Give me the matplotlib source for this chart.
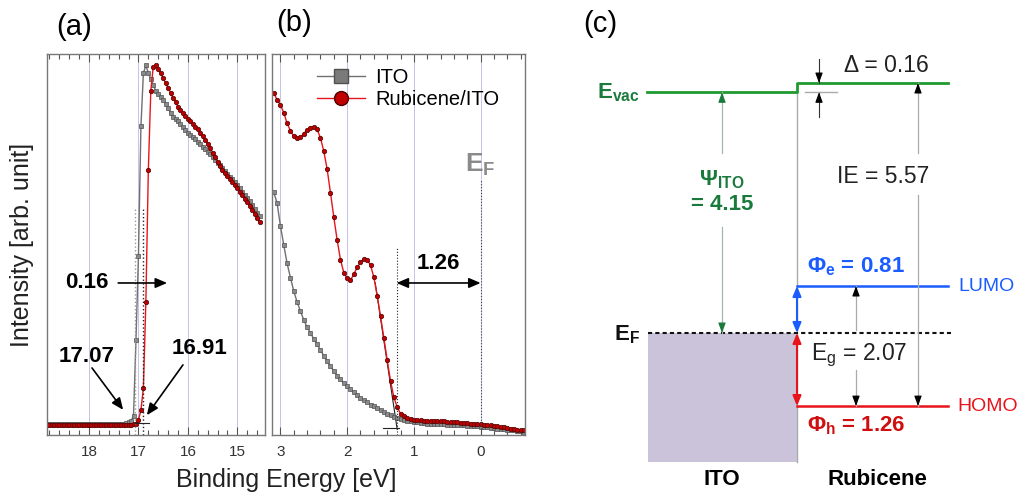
import numpy as np
import matplotlib
matplotlib.use('Agg')
import matplotlib.pyplot as plt
from matplotlib.lines import Line2D
from matplotlib.ticker import MultipleLocator, FormatStrFormatter

plt.rcParams['font.family'] = ['Liberation Sans', 'DejaVu Sans']
plt.rcParams['mathtext.fontset'] = 'custom'
plt.rcParams['mathtext.rm'] = 'Liberation Sans'
plt.rcParams['mathtext.bf'] = 'Liberation Sans:bold'
plt.rcParams['mathtext.it'] = 'Liberation Sans:italic'

# ---- (a) secondary electron cutoff, 18.85 -> 14.55 eV in 0.05 eV steps
be_cutoff = np.linspace(18.85, 14.55, 87)
ito_cutoff = [2.8, 2.8, 2.8, 2.8, 2.8, 2.8, 2.8, 2.8, 2.8, 2.8,
              2.8, 2.8, 2.8, 2.8, 2.8, 2.8, 2.8, 2.8, 2.8, 2.8,
              2.8, 2.8, 2.8, 2.8, 2.8, 2.8, 2.8, 2.8, 2.8, 2.9,
              2.9, 3.0, 3.1, 3.3, 3.7, 5.0, 25.0, 47.0, 81.0, 95.0,
              97.0, 95.0, 93.4, 91.9, 90.3, 89.5, 88.7, 87.9, 86.9, 85.7,
              84.6, 83.5, 82.9, 82.3, 81.6, 80.8, 80.0, 79.3, 78.8, 78.2,
              77.7, 77.0, 76.4, 75.7, 75.0, 74.4, 73.7, 73.0, 72.3, 71.5,
              70.8, 70.0, 69.3, 68.6, 67.8, 67.1, 66.3, 65.5, 64.7, 63.9,
              63.0, 62.2, 61.3, 60.3, 59.2, 58.2, 57.4]
rub_cutoff = [2.6, 2.6, 2.6, 2.6, 2.6, 2.6, 2.6, 2.6, 2.6, 2.6,
              2.6, 2.6, 2.6, 2.6, 2.6, 2.6, 2.6, 2.6, 2.6, 2.6,
              2.6, 2.6, 2.6, 2.6, 2.6, 2.6, 2.6, 2.6, 2.6, 2.6,
              2.6, 2.6, 2.6, 2.6, 2.7, 2.8, 3.0, 4.0, 6.5, 12.3,
              35.0, 69.6, 90.4, 96.7, 97.0, 96.0, 95.0, 93.6, 92.4, 91.1,
              89.8, 88.4, 87.3, 86.2, 85.4, 84.6, 83.8, 83.0, 82.3, 81.6,
              80.9, 80.2, 79.3, 78.4, 77.5, 76.5, 75.3, 74.1, 72.9, 71.6,
              70.5, 69.6, 68.8, 68.0, 67.2, 66.4, 65.6, 64.7, 63.8, 62.9,
              62.0, 61.1, 60.1, 59.1, 58.0, 56.9, 55.8]

# ---- (b) valence region, 3.10 -> -0.65 eV in 0.05 eV steps
be_valence = np.linspace(3.10, -0.65, 76)
ito_valence = [63.8, 60.9, 54.9, 49.9, 45.1, 41.3, 37.8, 34.9, 32.5, 30.2,
               28.3, 26.8, 25.2, 23.8, 22.3, 20.8, 19.4, 18.1, 16.8, 15.6,
               14.6, 13.6, 12.8, 12.0, 11.2, 10.5, 9.8, 9.2, 8.6, 8.0,
               7.5, 7.0, 6.5, 6.0, 5.6, 5.2, 4.8, 4.5, 4.2, 4.0,
               3.8, 3.6, 3.4, 3.3, 3.2, 3.1, 3.0, 3.0, 2.9, 2.9,
               2.8, 2.8, 2.7, 2.7, 2.6, 2.6, 2.5, 2.5, 2.4, 2.4,
               2.3, 2.3, 2.2, 2.1, 2.0, 1.9, 1.8, 1.7, 1.6, 1.5,
               1.4, 1.3, 1.2, 1.1, 1.0, 0.9]
rub_valence = [89.8, 88.0, 86.7, 84.6, 81.8, 79.9, 78.4, 77.9, 78.1, 79.1,
               80.1, 80.7, 80.9, 80.2, 78.0, 74.5, 69.8, 63.6, 57.2, 51.2,
               46.0, 42.6, 41.1, 40.6, 42.2, 44.0, 45.3, 46.2, 46.0, 44.6,
               41.4, 36.6, 31.2, 25.5, 19.7, 14.2, 9.9, 7.3, 5.6, 4.9,
               4.4, 4.2, 4.0, 3.9, 3.9, 3.8, 3.8, 3.8, 3.7, 3.7,
               3.6, 3.6, 3.5, 3.4, 3.4, 3.3, 3.2, 3.2, 3.1, 3.0,
               3.0, 2.9, 2.8, 2.7, 2.6, 2.5, 2.4, 2.3, 2.2, 2.0,
               1.9, 1.7, 1.6, 1.4, 1.3, 1.2]

cutoff_ito = 17.07
cutoff_rub = 16.91
homo_onset = 1.26

# ---- (c) energy levels [eV], relative to E_F
e_vac_ito = 4.15
e_vac_shift = 0.16
e_lumo = 0.81
e_homo = -1.26
e_block_bottom = -2.22

GREEN = '#1f9a2f'
DGREEN = '#1a7a3c'
BLUE = '#1a5cff'
RED = '#e8141c'
DRED = '#d01010'

fig = plt.figure(figsize=(10.2, 5.0), dpi=100)
ax_a = fig.add_axes([47 / 1020, 65 / 500, 218 / 1020, 381 / 500])
ax_b = fig.add_axes([272 / 1020, 65 / 500, 253 / 1020, 381 / 500])


def style_axis(ax, xlim):
    ax.set_xlim(*xlim)
    ax.set_ylim(0, 100)
    ax.set_yticks([])
    ax.xaxis.set_major_locator(MultipleLocator(1))
    ax.xaxis.set_minor_locator(MultipleLocator(0.2))
    ax.xaxis.set_major_formatter(FormatStrFormatter('%d'))
    ax.tick_params(axis='x', which='both', direction='in', top=True,
                   colors='#555555', labelcolor='#333333', labelsize=11, pad=7)
    ax.tick_params(axis='x', which='major', length=6, width=0.8)
    ax.tick_params(axis='x', which='minor', length=3.5, width=0.8)
    for s in ax.spines.values():
        s.set_color('#777777')
        s.set_linewidth(1.0)
    ax.grid(axis='x', which='major', color='#c4c4ec', lw=0.7, ls='-')
    ax.set_axisbelow(True)


style_axis(ax_a, (18.85, 14.44))
style_axis(ax_b, (3.126, -0.665))

mk_ito = dict(color='#707070', lw=1.0, marker='s', ms=3.0, mfc='#8a8a8a', mec='#505050', mew=0.5)
mk_rub = dict(color=RED, lw=1.0, marker='o', ms=3.2, mfc='#c00000', mec='#500000', mew=0.5)

ax_a.plot(be_cutoff, ito_cutoff, **mk_ito)
ax_a.plot(be_cutoff, rub_cutoff, **mk_rub)
ax_b.plot(be_valence, ito_valence, **mk_ito)
ax_b.plot(be_valence, rub_valence, **mk_rub)

# cutoff markers in (a)
ax_a.plot([cutoff_ito, cutoff_ito], [0, 59.6], color='#999999', lw=1.0, ls=':')
ax_a.plot([cutoff_rub, cutoff_rub], [0, 59.6], color='#222222', lw=1.0, ls=':')
ax_a.plot([17.07, 16.78], [3.1, 3.1], color='#222222', lw=0.8)

arr = dict(arrowstyle='-|>,head_length=0.7,head_width=0.3', color='black', lw=1.2,
           shrinkA=0, shrinkB=0, mutation_scale=10)
ax_a.annotate('', xy=(16.42, 39.9), xytext=(17.41, 39.9), arrowprops=arr)
ax_a.text(18.04, 39.9, '0.16', fontsize=16, fontweight='bold', ha='center', va='center')
ax_a.text(18.05, 20.5, '17.07', fontsize=16, fontweight='bold', ha='center', va='center')
ax_a.annotate('', xy=(17.31, 6.6), xytext=(17.94, 17.6), arrowprops=arr)
ax_a.text(15.76, 22.8, '16.91', fontsize=16, fontweight='bold', ha='center', va='center')
ax_a.annotate('', xy=(16.83, 5.2), xytext=(16.10, 18.4), arrowprops=arr)

# onset markers in (b)
ax_b.plot([homo_onset, homo_onset], [0, 49.1], color='#222222', lw=0.8, ls=':')
ax_b.plot([0, 0], [0, 66.9], color='#444444', lw=0.8, ls=':')
ax_b.plot([1.58, 1.25], [40.0, 1.5], color='#222222', lw=0.8, zorder=1)
ax_b.plot([1.47, 1.22], [1.8, 1.8], color='#222222', lw=0.8)
arr2 = dict(arr, arrowstyle='<|-|>,head_length=0.7,head_width=0.3')
ax_b.annotate('', xy=(0, 39.9), xytext=(homo_onset, 39.9), arrowprops=arr2)
ax_b.text(0.64, 45.1, '1.26', fontsize=16, fontweight='bold', ha='center', va='center')
ax_b.text(0.01, 70.9, r'$\mathbf{E_F}$', fontsize=19, color='#8a8a8a', ha='center', va='center')

handles = [Line2D([], [], color='#707070', lw=1.0, marker='s', ms=10, mfc='#7a7a7a', mec='#505050'),
           Line2D([], [], color=RED, lw=1.0, marker='o', ms=10, mfc='#c00000', mec='#500000')]
ax_b.legend(handles, ['ITO', 'Rubicene/ITO'], loc='upper left', bbox_to_anchor=(0.178, 0.962),
            frameon=False, borderaxespad=0, borderpad=0, handlelength=2.4,
            handletextpad=0.5, labelspacing=0.15, fontsize=14.5)

fig.text(22 / 1020, 1 - 245 / 500, 'Intensity [arb. unit]', rotation=90, fontsize=18,
         ha='center', va='center', color='#222222')
fig.text(286 / 1020, 1 - 480 / 500, 'Binding Energy [eV]', fontsize=18,
         ha='center', va='center', color='#222222')
fig.text(74 / 1020, 1 - 27 / 500, '(a)', fontsize=21, ha='center', va='center')
fig.text(294 / 1020, 1 - 23 / 500, '(b)', fontsize=21, ha='center', va='center')
fig.text(600 / 1020, 1 - 24 / 500, '(c)', fontsize=21, ha='center', va='center')

# ---- (c) energy level diagram
ax_c = fig.add_axes([580 / 1020, 0, 440 / 1020, 1])
ax_c.set_xlim(580, 1020)
ax_c.set_ylim((333 - 500) / 58, 333 / 58)
ax_c.axis('off')

x_left, x_int, x_right = 648, 797, 948
e_vac_rub = e_vac_ito + e_vac_shift

ax_c.fill_between([x_left, x_int], e_block_bottom, 0, color='#cac3da', lw=0)
ax_c.plot([x_int, x_int], [e_vac_ito, e_block_bottom], color='#aaaaaa', lw=1.0)
ax_c.plot([x_left - 1, x_int, x_int, x_right], [e_vac_ito, e_vac_ito, e_vac_rub, e_vac_rub],
          color=GREEN, lw=2.0)
ax_c.plot([x_left, x_right + 3], [0, 0], color='#111111', lw=1.5, ls=(0, (2, 1.5)))
ax_c.plot([x_int, x_right], [e_lumo, e_lumo], color=BLUE, lw=1.8)
ax_c.plot([x_int, x_right], [e_homo, e_homo], color=RED, lw=1.8)


def head(x, y_tip, up, color):
    d = 0.15 if up else -0.15
    ax_c.annotate('', xy=(x, y_tip), xytext=(x, y_tip - d),
                  arrowprops=dict(arrowstyle='-|>,head_length=0.6,head_width=0.22',
                                  color=color, lw=0.8, shrinkA=0, shrinkB=0,
                                  mutation_scale=10))


# Psi_ITO arrow
x_psi = 722
ax_c.plot([x_psi, x_psi], [0, 1.83], color='#9fb8a8', lw=0.9)
ax_c.plot([x_psi, x_psi], [3.10, e_vac_ito], color='#9fb8a8', lw=0.9)
head(x_psi, e_vac_ito, True, DGREEN)
head(x_psi, 0, False, DGREEN)
ax_c.text(x_psi, 2.64, r'$\mathbf{Ψ_{ITO}}$', color=DGREEN, fontsize=16, ha='center', va='center')
ax_c.text(x_psi, 2.21, '= 4.15', color=DGREEN, fontsize=16, fontweight='bold', ha='center', va='center')

# IE arrow
x_ie = 918
ax_c.plot([x_ie, x_ie], [e_vac_rub, 3.10], color='#aaaaaa', lw=0.9)
ax_c.plot([x_ie, x_ie], [2.38, e_homo], color='#aaaaaa', lw=0.9)
head(x_ie, e_vac_rub, True, 'black')
head(x_ie, e_homo, False, 'black')
ax_c.text(883, 2.69, f'IE = {e_vac_rub - e_homo:.2f}', fontsize=16.5, ha='center', va='center',
          color='#222222')

# Delta arrows
x_d = 819
ax_c.plot([x_d, x_d], [e_vac_rub + 0.41, e_vac_rub], color='#333333', lw=0.8)
head(x_d, e_vac_rub, False, 'black')
ax_c.plot([x_d, x_d], [e_vac_ito - 0.43, e_vac_ito], color='#333333', lw=0.8)
head(x_d, e_vac_ito, True, 'black')
ax_c.plot([805, 837], [e_vac_ito, e_vac_ito], color='#aaaaaa', lw=1.0)
ax_c.text(886, 4.62, f'Δ = {e_vac_shift:.2f}', fontsize=16.5, ha='center', va='center', color='#222222')

# Eg arrow
x_g = 856
ax_c.plot([x_g, x_g], [e_lumo, 0.05], color='#aaaaaa', lw=0.9)
ax_c.plot([x_g, x_g], [-0.64, e_homo], color='#aaaaaa', lw=0.9)
head(x_g, e_lumo, True, 'black')
head(x_g, e_homo, False, 'black')
ax_c.text(859, -0.38, r'$\mathrm{E_g}$' + f' = {e_lumo - e_homo:.2f}', fontsize=16.5,
          ha='center', va='center', color='#222222')

# injection barriers
ax_c.annotate('', xy=(x_int, e_lumo), xytext=(x_int, 0),
              arrowprops=dict(arrowstyle='<|-|>,head_length=0.6,head_width=0.25', color=BLUE,
                              lw=1.5, shrinkA=0, shrinkB=0, mutation_scale=10))
ax_c.annotate('', xy=(x_int, e_homo), xytext=(x_int, 0),
              arrowprops=dict(arrowstyle='<|-|>,head_length=0.6,head_width=0.25', color=RED,
                              lw=1.5, shrinkA=0, shrinkB=0, mutation_scale=10))
ax_c.text(807, 1.14, r'$\mathbf{Φ_e}$' + f' = {e_lumo:.2f}', color=BLUE, fontsize=16,
          fontweight='bold', ha='left', va='center')
ax_c.text(807, -1.6, r'$\mathbf{Φ_h}$' + f' = {-e_homo:.2f}', color=DRED, fontsize=16,
          fontweight='bold', ha='left', va='center')

ax_c.text(958, e_lumo, 'LUMO', color=BLUE, fontsize=14, ha='left', va='center')
ax_c.text(957, e_homo, 'HOMO', color=RED, fontsize=14, ha='left', va='center')
ax_c.text(640, e_vac_ito, r'$\mathbf{E_{vac}}$', color=DGREEN, fontsize=16, ha='right', va='center')
ax_c.text(640, -0.03, r'$\mathbf{E_F}$', color='#111111', fontsize=16, ha='right', va='center')
ax_c.text(x_psi, -2.53, 'ITO', fontsize=16, fontweight='bold', ha='center', va='center')
ax_c.text(877, -2.53, 'Rubicene', fontsize=16, fontweight='bold', ha='center', va='center')

fig.savefig('out.png', dpi=100)
